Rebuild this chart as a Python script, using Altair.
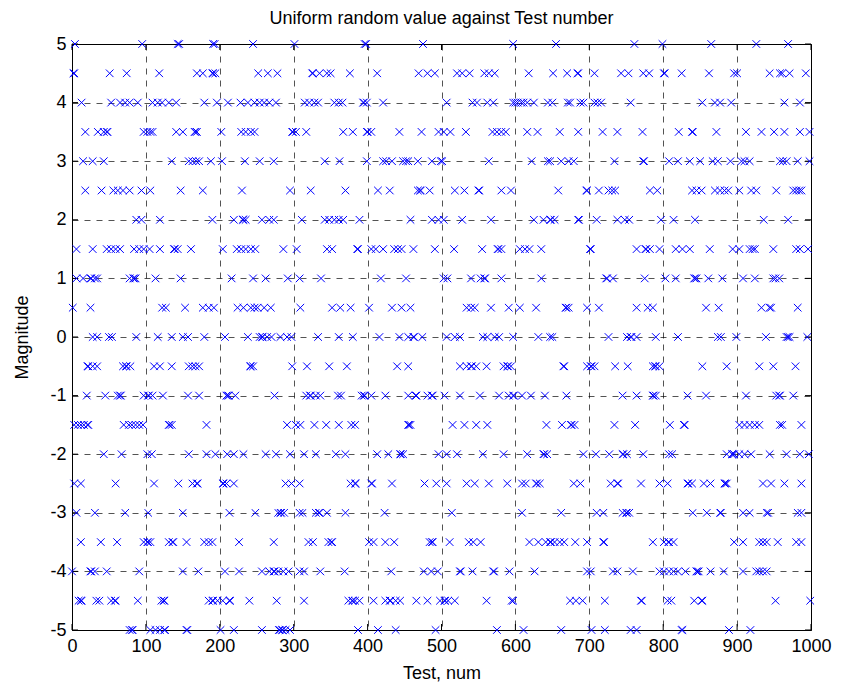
import altair as alt
import pandas as pd

# Test numbers observed at each magnitude level
m5_0 = [4, 95, 143, 145, 191, 193, 245, 301, 396, 398, 475, 597, 655, 761, 799, 865, 926, 969]
m4_5 = [2, 3, 51, 74, 118, 169, 177, 190, 191, 194, 252, 265, 278, 325, 326, 335, 345, 350, 376, 413, 469, 481, 491, 521, 528, 538, 558, 564, 572, 618, 651, 670, 684, 685, 707, 743, 753, 773, 781, 801, 802, 825, 862, 896, 900, 944, 958, 961, 971, 993]
m4_0 = [13, 53, 65, 72, 78, 89, 109, 116, 122, 131, 141, 179, 196, 211, 228, 238, 247, 254, 260, 267, 276, 315, 321, 328, 333, 355, 361, 366, 394, 395, 399, 421, 507, 542, 548, 562, 570, 597, 600, 603, 608, 611, 616, 625, 644, 650, 671, 674, 688, 692, 707, 711, 716, 756, 853, 870, 877, 892, 964, 985]
m3_5 = [18, 35, 43, 47, 48, 97, 102, 106, 109, 141, 150, 166, 167, 169, 202, 229, 235, 242, 247, 298, 299, 303, 317, 367, 380, 399, 400, 405, 443, 473, 496, 503, 512, 533, 569, 575, 581, 587, 616, 630, 660, 685, 718, 738, 772, 821, 839, 840, 872, 912, 933, 950, 964, 985, 998]
m3_0 = [15, 28, 43, 135, 158, 163, 168, 172, 188, 203, 234, 254, 273, 342, 362, 399, 421, 425, 433, 448, 452, 455, 468, 487, 499, 501, 564, 622, 644, 647, 662, 672, 679, 734, 773, 774, 808, 820, 836, 850, 867, 874, 891, 906, 910, 917, 958, 962, 967, 982, 998]
m2_5 = [18, 40, 56, 62, 69, 78, 94, 106, 147, 177, 230, 295, 323, 370, 414, 430, 468, 471, 472, 484, 518, 531, 550, 551, 581, 594, 658, 696, 697, 713, 726, 731, 735, 782, 792, 839, 845, 852, 870, 877, 883, 888, 903, 919, 926, 953, 976, 980, 984, 987]
m2_0 = [87, 94, 119, 190, 219, 231, 232, 235, 257, 267, 273, 311, 342, 348, 355, 361, 367, 389, 458, 487, 496, 503, 528, 567, 625, 638, 647, 648, 653, 685, 686, 710, 738, 748, 754, 797, 814, 843, 936, 969]
m1_5 = [6, 28, 47, 53, 59, 65, 84, 91, 97, 105, 119, 138, 139, 143, 161, 204, 223, 229, 235, 242, 248, 286, 304, 345, 352, 386, 387, 405, 411, 421, 436, 441, 446, 462, 491, 517, 555, 576, 577, 581, 606, 613, 619, 635, 701, 702, 764, 776, 777, 782, 795, 817, 826, 836, 863, 894, 903, 917, 921, 924, 949, 980, 985, 996]
m1_0 = [6, 15, 25, 26, 31, 34, 78, 83, 84, 86, 113, 147, 216, 245, 262, 292, 308, 337, 418, 452, 503, 508, 540, 553, 558, 559, 581, 635, 723, 724, 732, 775, 803, 817, 842, 843, 845, 861, 880, 908, 924, 949, 952, 957]
m0_5 = [1, 25, 122, 127, 153, 177, 185, 192, 224, 232, 242, 247, 251, 260, 269, 309, 352, 363, 377, 402, 433, 446, 458, 534, 540, 545, 567, 591, 606, 628, 668, 669, 672, 697, 713, 764, 779, 786, 858, 875, 933, 944, 946, 982]
m0_0 = [28, 34, 50, 54, 87, 116, 135, 150, 157, 179, 207, 238, 254, 257, 258, 264, 270, 282, 291, 297, 333, 361, 380, 416, 443, 455, 462, 463, 474, 507, 518, 525, 556, 562, 572, 578, 597, 631, 647, 650, 726, 751, 756, 757, 764, 790, 820, 874, 878, 899, 939, 967, 969, 971, 995]
n0_5 = [21, 22, 28, 34, 69, 73, 74, 79, 111, 119, 135, 158, 163, 167, 172, 241, 242, 245, 298, 318, 348, 372, 440, 455, 525, 534, 540, 541, 547, 561, 584, 589, 590, 594, 665, 666, 697, 702, 703, 707, 735, 752, 786, 789, 790, 795, 853, 886, 930, 949, 979]
n1_0 = [20, 45, 62, 65, 66, 97, 103, 104, 109, 123, 157, 172, 209, 211, 212, 221, 274, 317, 322, 323, 330, 336, 360, 364, 392, 395, 396, 405, 424, 455, 465, 466, 481, 487, 488, 504, 525, 552, 578, 591, 597, 598, 609, 621, 640, 669, 745, 764, 786, 787, 790, 833, 858, 912, 953, 957, 958, 976]
n1_5 = [3, 8, 12, 16, 21, 22, 70, 77, 81, 86, 91, 96, 131, 132, 135, 182, 291, 303, 309, 328, 344, 361, 378, 383, 455, 456, 458, 515, 531, 547, 562, 642, 663, 675, 676, 680, 734, 762, 809, 828, 829, 903, 910, 917, 924, 930, 958, 961, 987]
n2_0 = [43, 67, 102, 108, 158, 182, 194, 210, 219, 232, 262, 276, 295, 314, 330, 357, 370, 413, 428, 444, 445, 448, 496, 507, 521, 556, 584, 616, 638, 639, 643, 692, 709, 727, 745, 746, 751, 773, 808, 812, 886, 893, 894, 896, 903, 910, 919, 944, 967, 985, 997]
n2_5 = [3, 12, 59, 111, 144, 163, 169, 170, 204, 205, 209, 219, 289, 297, 308, 377, 383, 384, 405, 406, 433, 477, 493, 507, 534, 545, 564, 589, 609, 614, 628, 629, 633, 679, 688, 729, 738, 739, 770, 795, 806, 833, 834, 839, 855, 864, 883, 884, 886, 935, 946, 964, 987]
n3_0 = [6, 31, 72, 103, 150, 213, 248, 279, 282, 283, 287, 308, 312, 330, 334, 335, 345, 370, 423, 514, 609, 662, 710, 719, 745, 750, 751, 754, 840, 859, 877, 878, 908, 917, 940, 942, 982, 987]
n3_5 = [12, 39, 61, 97, 102, 103, 106, 131, 136, 137, 155, 179, 185, 190, 226, 273, 320, 326, 347, 351, 352, 402, 408, 424, 436, 484, 487, 488, 511, 537, 543, 553, 619, 631, 641, 647, 648, 653, 660, 666, 681, 697, 719, 720, 786, 801, 807, 808, 814, 896, 908, 930, 935, 940, 955, 980, 987]
n4_0 = [0, 25, 26, 31, 47, 91, 150, 171, 207, 226, 257, 267, 273, 274, 279, 286, 293, 308, 314, 336, 369, 432, 476, 486, 495, 525, 526, 542, 570, 571, 592, 626, 697, 702, 732, 738, 759, 795, 801, 808, 814, 820, 830, 845, 846, 848, 864, 882, 908, 926, 930, 935, 940]
n4_5 = [9, 12, 13, 33, 37, 53, 58, 59, 89, 121, 124, 125, 185, 190, 191, 197, 204, 213, 214, 240, 277, 314, 374, 379, 380, 383, 389, 408, 424, 430, 431, 438, 444, 466, 481, 498, 504, 505, 509, 518, 561, 595, 597, 674, 682, 691, 721, 770, 771, 806, 811, 842, 852, 853, 952, 999]
n5_0 = [78, 81, 82, 106, 113, 119, 125, 126, 155, 156, 201, 219, 257, 280, 281, 284, 285, 289, 295, 387, 414, 438, 492, 575, 611, 662, 703, 721, 756, 764, 825, 826, 889, 918]

levels = [5.0, 4.5, 4.0, 3.5, 3.0, 2.5, 2.0, 1.5, 1.0, 0.5, 0.0,
          -0.5, -1.0, -1.5, -2.0, -2.5, -3.0, -3.5, -4.0, -4.5, -5.0]
series = [m5_0, m4_5, m4_0, m3_5, m3_0, m2_5, m2_0, m1_5, m1_0, m0_5, m0_0,
          n0_5, n1_0, n1_5, n2_0, n2_5, n3_0, n3_5, n4_0, n4_5, n5_0]

x_ticks = [0, 100, 200, 300, 400, 500, 600, 700, 800, 900, 1000]
y_ticks = [-5, -4, -3, -2, -1, 0, 1, 2, 3, 4, 5]

rows = []
for lv, tests in zip(levels, series):
    for t in tests:
        rows.append({"test": t, "value": lv})
df = pd.DataFrame(rows)

W, H = 739, 586
FONT = "Liberation Sans"

xscale = alt.Scale(domain=[0, 1000], nice=False, zero=False)
yscale = alt.Scale(domain=[-5, 5], nice=False, zero=False)

xaxis = alt.Axis(values=x_ticks, title="Test, num", grid=True, ticks=False,
                 labelExpr="'' + datum.value", labelPadding=7, titlePadding=9,
                 labelFlush=False)
yaxis = alt.Axis(values=y_ticks, title="Magnitude", grid=True, ticks=False,
                 labelExpr="'' + datum.value", labelPadding=6, titlePadding=18)

points = alt.Chart(df).mark_point(
    shape="M-1,-1L1,1M-1,1L1,-1", filled=False, size=58,
    color="#0000ff", strokeWidth=1, opacity=1
).encode(
    x=alt.X("test:Q", scale=xscale, axis=xaxis),
    y=alt.Y("value:Q", scale=yscale, axis=yaxis),
)

xt = pd.DataFrame({"t": x_ticks})
yt = pd.DataFrame({"v": y_ticks})

xtick_bottom = alt.Chart(xt).mark_rule(color="black", strokeWidth=1).encode(
    x=alt.X("t:Q", scale=xscale), y=alt.value(H), y2=alt.value(H - 6))
xtick_top = alt.Chart(xt).mark_rule(color="black", strokeWidth=1).encode(
    x=alt.X("t:Q", scale=xscale), y=alt.value(0), y2=alt.value(6))
ytick_left = alt.Chart(yt).mark_rule(color="black", strokeWidth=1).encode(
    y=alt.Y("v:Q", scale=yscale), x=alt.value(0), x2=alt.value(6))
ytick_right = alt.Chart(yt).mark_rule(color="black", strokeWidth=1).encode(
    y=alt.Y("v:Q", scale=yscale), x=alt.value(W), x2=alt.value(W - 6))

chart = alt.layer(
    xtick_bottom, xtick_top, ytick_left, ytick_right, points
).properties(
    width=W, height=H,
    background="white",
    title=alt.TitleParams("Uniform random value against Test number",
                          fontSize=18, font=FONT, fontWeight="normal",
                          color="black", offset=7),
    autosize=alt.AutoSizeParams(type="none"),
    padding={"left": 64, "top": 36, "right": 24, "bottom": 60},
).configure_view(
    stroke="black", strokeWidth=1
).configure_axis(
    domainColor="black", domainWidth=1,
    labelFont=FONT, labelFontSize=18, labelColor="black",
    titleFont=FONT, titleFontSize=18, titleFontWeight="normal", titleColor="black",
    gridColor="black", gridDash=[6, 6], gridWidth=0.8, gridOpacity=0.85,
)

chart.save("out.html", embed_options={"renderer": "svg", "actions": False})
